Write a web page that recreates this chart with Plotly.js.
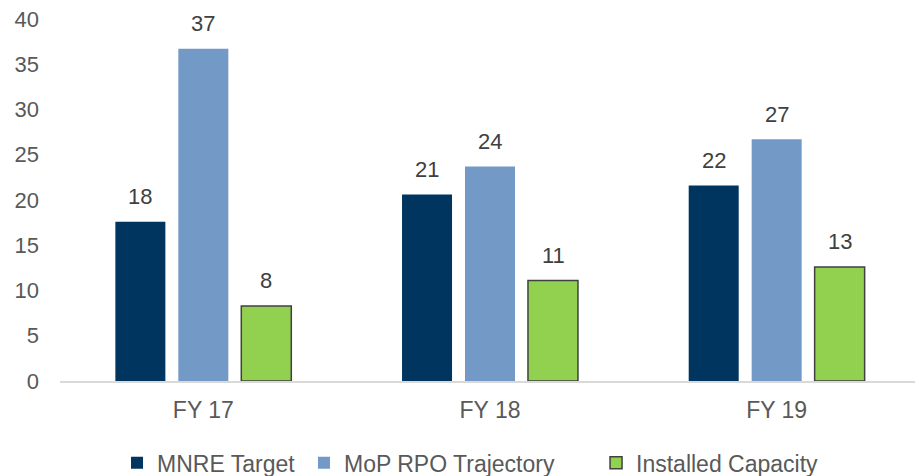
<!DOCTYPE html>
<html><head><meta charset="utf-8">
<script src="https://cdn.plot.ly/plotly-3.0.1.min.js"></script>
<style>html,body{margin:0;padding:0;background:#fff;overflow:hidden}#chart{width:920px;height:476px}</style>
</head><body><div id="chart"></div>
<script>
const categories = ["FY 17", "FY 18", "FY 19"];
const seriesNames = ["MNRE Target", "MoP RPO Trajectory", "Installed Capacity"];
const mnreTarget = [17.6, 20.6, 21.6];
const mopRpo = [36.7, 23.7, 26.7];
const installed = [8.3, 11.1, 12.6];
const yTicks = [0, 5, 10, 15, 20, 25, 30, 35, 40];

const FONT = "Arial, Liberation Sans, sans-serif";
const colors = ["#00355F", "#7399C6", "#92D050"];
const lines = [{width: 0}, {width: 0}, {width: 1.5, color: "#404040"}];
const values = [mnreTarget, mopRpo, installed];
const legendIds = ["legend", "legend2", "legend3"];
const legendX = [0.0663, 0.2837, 0.6233];

const data = values.map((y, i) => ({
  type: "bar", name: seriesNames[i], x: categories, y: y,
  marker: {color: colors[i], line: lines[i]},
  legend: legendIds[i],
  hoverinfo: "none"
}));

// data labels, placed above each bar via the axis scales
const slotPx = 63;
const annotations = [];
values.forEach((y, i) => {
  y.forEach((v, j) => {
    annotations.push({
      xref: "x", yref: "y", x: categories[j], y: v,
      xshift: (i - 1) * slotPx, yshift: 25,
      text: String(Math.round(v)), showarrow: false,
      xanchor: "center", yanchor: "middle",
      font: {family: FONT, size: 22, color: "#404040"}
    });
  });
});

const layout = {
  width: 920, height: 476,
  margin: {l: 60, r: 0, t: 19, b: 95, autoexpand: false},
  paper_bgcolor: "#fff", plot_bgcolor: "#fff",
  barmode: "group", bargap: 0.341, bargroupgap: 0.206,
  showlegend: true,
  xaxis: {showgrid: false, showline: true, linecolor: "#D9D9D9", linewidth: 1.5,
    tickfont: {family: FONT, size: 23, color: "#595959"},
    ticks: "", zeroline: false, ticklabelstandoff: 8},
  yaxis: {range: [0, 40], tickvals: yTicks, showgrid: false, zeroline: false, showline: false,
    tickfont: {family: FONT, size: 22, color: "#595959"},
    ticks: "", ticklabelstandoff: 20},
  annotations: annotations
};
legendIds.forEach((id, i) => {
  layout[id] = {orientation: "h", x: legendX[i], xanchor: "left", y: -0.226, yanchor: "middle",
    font: {family: FONT, size: 23, color: "#595959"}, itemwidth: 30,
    bgcolor: "rgba(0,0,0,0)"};
});
Plotly.newPlot("chart", data, layout, {staticPlot: true, displayModeBar: false});
</script></body></html>
